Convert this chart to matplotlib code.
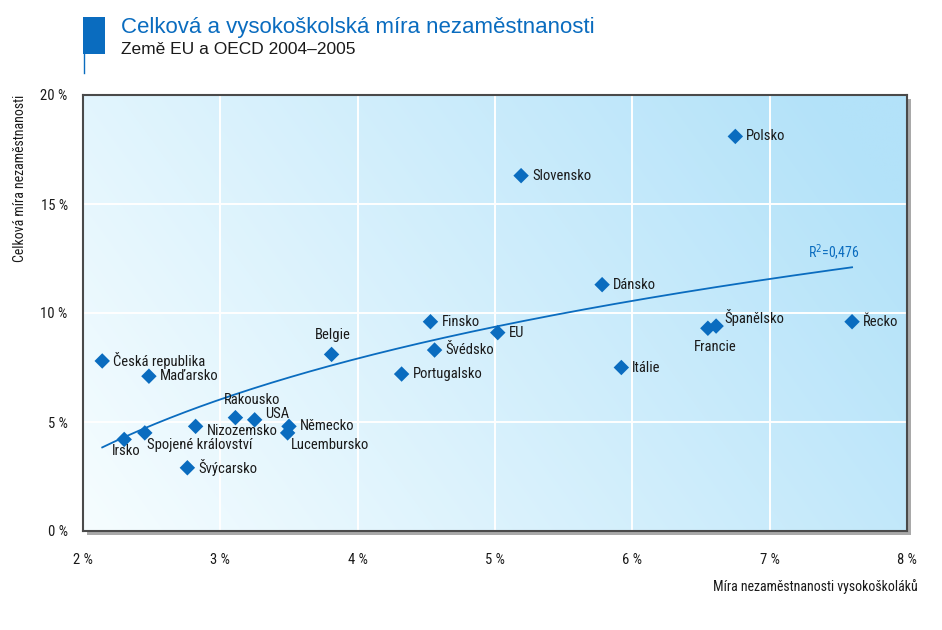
import numpy as np
import matplotlib
matplotlib.use("Agg")
import matplotlib.pyplot as plt
from matplotlib import font_manager as fm
from matplotlib.patches import Rectangle

# ---- data ----
countries = ["Česká republika", "Maďarsko", "Irsko", "Spojené království", "Nizozemsko",
             "Švýcarsko", "Rakousko", "USA", "Německo", "Lucembursko", "Belgie",
             "Portugalsko", "Finsko", "Švédsko", "EU", "Slovensko", "Dánsko", "Itálie",
             "Francie", "Španělsko", "Polsko", "Řecko"]
grad_unemp = [2.14, 2.48, 2.30, 2.45, 2.82, 2.76, 3.11, 3.25, 3.50, 3.49, 3.81,
              4.32, 4.53, 4.56, 5.02, 5.19, 5.78, 5.92, 6.55, 6.61, 6.75, 7.60]
total_unemp = [7.8, 7.1, 4.2, 4.5, 4.8, 2.9, 5.2, 5.1, 4.8, 4.5, 8.1,
               7.2, 9.6, 8.3, 9.1, 16.3, 11.3, 7.5, 9.3, 9.4, 18.1, 9.6]
x_ticks = [2, 3, 4, 5, 6, 7, 8]
y_ticks = [0, 5, 10, 15, 20]
r2_text = "R$^2$=0,476"

# label offsets in pixels (dx, dy, ha, va)
label_pos = {
    "Irsko": (2, -12, "center", "center"),
    "Spojené království": (2, -12, "left", "center"),
    "Nizozemsko": (11, -5, "left", "center"),
    "Rakousko": (17, 18, "center", "center"),
    "USA": (10, 6, "left", "center"),
    "Lucembursko": (3, -12, "left", "center"),
    "Belgie": (1, 19, "center", "center"),
    "Francie": (7, -19, "center", "center"),
    "Španělsko": (8, 9, "left", "center"),
}

# ---- fonts: look for a condensed face ----
cond_name, cond_stretch = "DejaVu Sans", "normal"
prefs = ["RobotoCondensed", "LiberationSansNarrow", "DejaVuSansCondensed",
         "OpenSans_Condensed", "OpenSansCondensed", "NotoSans-Condensed",
         "NotoSansCondensed", "Roboto_Condensed", "Inter"]
found = None
for p in prefs:
    for f in fm.fontManager.ttflist:
        fn = f.fname.replace(" ", "").replace("-", "")
        if p.replace("-", "") in fn and f.style == "normal" and f.weight in (400, "normal", "regular"):
            found = f
            break
    if found:
        break
if found is not None:
    cond_name, cond_stretch = found.name, found.stretch
plt.rcParams["font.family"] = [cond_name, "DejaVu Sans"]
plt.rcParams["font.stretch"] = cond_stretch

W, H = 942, 630
fig = plt.figure(figsize=(W / 100, H / 100), dpi=100)
L, R, T, B = 83, 907, 95, 531
ax = fig.add_axes([L / W, 1 - B / H, (R - L) / W, (B - T) / H])
ax.set_zorder(2)

# shadow
shadow = Rectangle(((L + 4) / W, 1 - (B + 4) / H), (R - L) / W, (B - T) / H,
                   transform=fig.transFigure, facecolor="#a9a9a9",
                   edgecolor="none", zorder=-5)
fig.patches.append(shadow)

# gradient background
nx, ny = 300, 200
gx, gy = np.meshgrid(np.linspace(0, 1, nx), np.linspace(0, 1, ny))
t = np.clip(0.78 * gx + 0.30 * gy, 0, 1)
c0 = np.array([0xf6, 0xfd, 0xff]) / 255
c1 = np.array([0xb3, 0xe2, 0xf9]) / 255
img = c0[None, None, :] * (1 - t[..., None]) + c1[None, None, :] * t[..., None]
ax.imshow(img, extent=[0, 1, 0, 1], transform=ax.transAxes, origin="lower",
          aspect="auto", zorder=0, interpolation="bilinear")

ax.set_xlim(2, 8)
ax.set_ylim(0, 20)
for xv in x_ticks[1:-1]:
    ax.axvline(xv, color="white", lw=1.4, zorder=1)
for yv in y_ticks[1:-1]:
    ax.axhline(yv, color="white", lw=1.4, zorder=1)

blue = "#0a6cbf"
gx_arr = np.array(grad_unemp)
ty_arr = np.array(total_unemp)
ax.scatter(gx_arr, ty_arr, marker="D", s=62, color=blue, edgecolors="none", zorder=4)

# logarithmic trend
a, b = np.polyfit(np.log(gx_arr), ty_arr, 1)
xs = np.linspace(gx_arr.min(), gx_arr.max(), 200)
ax.plot(xs, a * np.log(xs) + b, color=blue, lw=1.3, zorder=3)
ax.annotate(r2_text, (xs[-1], a * np.log(xs[-1]) + b), xytext=(-18, 14),
            textcoords="offset pixels", ha="center", va="center", fontsize=10,
            color=blue)

for name, xv, yv in zip(countries, grad_unemp, total_unemp):
    dx, dy, ha, va = label_pos.get(name, (11, 0, "left", "center"))
    ax.annotate(name, (xv, yv), xytext=(dx, dy), textcoords="offset pixels",
                ha=ha, va=va, fontsize=10.5, color="#1a1a1a", zorder=5)

ax.set_xticks(x_ticks)
ax.set_yticks(y_ticks)
ax.set_xticklabels([f"{v} %" for v in x_ticks])
ax.set_yticklabels([f"{v} %" for v in y_ticks])
ax.tick_params(length=0, labelsize=10.5, colors="#1a1a1a")
ax.tick_params(axis="x", pad=16)
ax.tick_params(axis="y", pad=11)
for sp in ax.spines.values():
    sp.set_color("#4a4a4a")
    sp.set_linewidth(1.5)
    sp.set_zorder(6)

fig.text(20 / W, 1 - 178 / H, "Celková míra nezaměstnanosti", rotation=90,
         ha="center", va="center", fontsize=10, color="#1a1a1a")
fig.text(918 / W, 1 - 587 / H, "Míra nezaměstnanosti vysokoškoláků",
         ha="right", va="center", fontsize=10, color="#1a1a1a")

# title block
fig.patches.append(Rectangle((83 / W, 1 - 54 / H), 22 / W, 37 / H,
                             transform=fig.transFigure, facecolor="#0a6cbf",
                             edgecolor="none"))
fig.lines.append(plt.Line2D([83.5 / W, 83.5 / W], [1 - 54 / H, 1 - 73 / H],
                            transform=fig.transFigure, color="#0a6cbf", lw=1))
fig.text(121 / W, 1 - 28 / H, "Celková a vysokoškolská míra nezaměstnanosti",
         ha="left", va="center", fontsize=16, color="#0a6cbf",
         family=["Liberation Sans", "DejaVu Sans"], stretch="normal")
fig.text(121 / W, 1 - 49 / H, "Země EU a OECD 2004–2005",
         ha="left", va="center", fontsize=12.5, color="#1a1a1a",
         family=["Liberation Sans", "DejaVu Sans"], stretch="normal")

fig.savefig("out.png", dpi=100)
